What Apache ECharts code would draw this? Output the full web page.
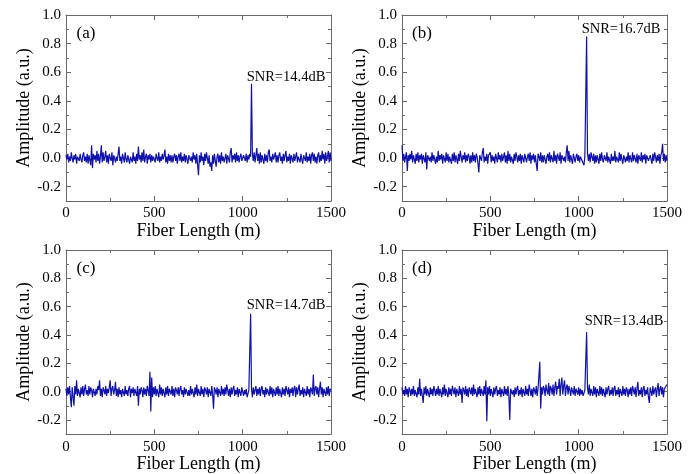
<!DOCTYPE html>
<html>
<head>
<meta charset="utf-8">
<script src="https://cdn.jsdelivr.net/npm/echarts@6/dist/echarts.min.js"></script>
<style>html,body{margin:0;padding:0;background:#fff}#c{width:697px;height:474px}</style>
</head>
<body>
<div id="c"></div>
<script>
// Sampling step along fiber (m); sample i is at i*STEP
const STEP = 5;
const yTicks = [-0.2, 0.0, 0.2, 0.4, 0.6, 0.8, 1.0];
const panelNames = ['(a)', '(b)', '(c)', '(d)'];
const snrLabels = ['SNR=14.4dB', 'SNR=16.7dB', 'SNR=14.7dB', 'SNR=13.4dB'];

const ampA = [
 0.02,-0.01,0.03,-0.03,0.01,-0.02,0.04,0.00,-0.03,0.02,-0.01,0.03,-0.04,0.01,0.02,-0.02,0.03,-0.01,-0.03,0.02,
 0.04,-0.02,0.01,-0.03,0.03,-0.04,0.02,0.01,-0.05,0.09,-0.07,0.03,-0.01,0.02,-0.03,0.05,-0.02,0.03,-0.04,0.01,
 0.09,-0.03,0.04,-0.02,0.01,0.05,-0.03,0.02,-0.04,0.03,0.00,-0.02,0.04,-0.05,0.02,0.03,-0.03,0.01,-0.02,0.03,
 0.08,-0.02,0.01,-0.04,0.03,0.02,-0.03,0.04,-0.01,-0.03,0.02,0.03,-0.04,0.01,0.02,-0.03,0.04,-0.02,0.01,-0.04,
 0.03,-0.02,0.08,-0.01,0.02,-0.03,0.04,-0.02,0.06,-0.03,0.01,0.03,-0.04,0.02,-0.01,0.03,-0.03,0.02,-0.02,0.01,
 0.02,-0.03,0.03,0.00,-0.02,0.04,-0.03,0.01,-0.02,0.03,-0.01,0.02,0.06,-0.03,0.01,-0.04,0.03,-0.02,0.02,-0.03,
 0.02,-0.03,0.01,0.03,-0.02,0.02,-0.04,0.01,0.03,-0.02,0.04,-0.03,0.01,-0.02,0.03,-0.03,0.02,0.01,-0.04,0.02,
 0.03,-0.02,0.01,-0.03,0.04,-0.01,0.02,-0.04,0.03,-0.05,-0.12,0.02,-0.03,0.04,-0.02,0.01,-0.05,0.03,-0.02,0.04,
 0.03,-0.04,0.02,-0.06,-0.03,-0.09,0.02,-0.04,0.03,-0.02,-0.06,0.01,0.03,-0.03,0.02,-0.04,0.04,-0.02,0.01,-0.03,
 -0.02,0.03,-0.04,0.02,0.01,-0.03,0.04,0.07,-0.03,0.02,-0.01,0.03,-0.03,0.04,-0.02,0.02,-0.03,0.01,0.03,-0.02,
 -0.03,0.02,0.01,-0.02,0.03,-0.03,0.02,-0.01,0.03,0.01,0.52,0.03,-0.02,0.04,-0.03,0.02,0.07,-0.02,0.03,-0.04,
 0.04,-0.03,0.02,0.01,-0.04,0.03,-0.02,0.02,-0.03,0.04,0.06,-0.02,0.01,-0.03,0.03,-0.01,-0.02,0.04,-0.03,0.02,
 -0.03,0.02,0.04,-0.02,0.01,-0.04,0.03,-0.02,0.02,0.05,-0.03,0.01,-0.02,0.03,-0.04,0.02,0.01,-0.03,0.03,-0.02,
 -0.02,0.04,-0.03,0.01,0.02,-0.03,0.03,-0.01,-0.04,0.02,0.03,-0.02,0.04,-0.03,0.01,-0.02,0.03,-0.04,0.02,0.04,
 -0.02,0.03,-0.03,0.01,-0.04,0.02,0.04,-0.03,0.02,-0.02,0.05,-0.01,0.03,-0.04,0.04,-0.02,0.01,0.05,-0.03,0.04,
 -0.02
];
const ampB = [
 0.09,-0.02,0.03,-0.03,0.01,0.04,-0.09,0.02,-0.02,0.03,-0.01,0.05,-0.03,0.02,0.01,-0.04,0.03,-0.02,0.04,-0.03,
 0.02,-0.01,0.03,-0.04,0.02,0.01,-0.03,0.04,-0.08,0.02,0.03,-0.02,0.01,-0.03,0.04,-0.02,0.02,0.03,-0.04,0.01,
 -0.03,0.05,-0.02,0.02,-0.01,0.03,-0.04,0.02,0.01,-0.03,0.04,-0.02,0.03,-0.03,0.01,0.02,-0.04,0.03,-0.02,0.04,
 -0.03,0.02,0.01,-0.04,0.03,-0.02,0.05,0.01,-0.03,0.02,-0.01,0.04,-0.03,0.02,-0.02,0.03,0.01,-0.04,0.02,-0.03,
 0.04,-0.02,0.02,-0.03,0.03,0.01,-0.04,-0.10,0.02,0.03,-0.02,0.04,0.07,-0.03,0.01,-0.02,0.03,-0.04,0.02,0.01,
 0.04,-0.03,0.02,-0.02,0.01,-0.04,0.03,0.02,-0.03,0.04,-0.01,0.02,-0.03,0.03,-0.02,0.01,0.04,-0.03,0.02,-0.04,
 0.05,-0.02,0.03,-0.03,0.01,0.02,-0.04,0.03,-0.02,0.04,0.01,-0.03,0.02,-0.02,0.03,-0.04,0.02,0.01,-0.03,0.03,
 0.02,-0.03,0.01,0.03,-0.02,0.04,-0.04,0.02,-0.01,0.03,-0.03,0.02,-0.04,-0.09,0.03,0.01,-0.02,0.04,-0.03,0.02,
 -0.03,0.02,0.03,-0.04,0.01,0.03,-0.02,0.04,-0.03,0.02,0.01,-0.03,0.05,-0.02,0.02,-0.04,0.03,0.01,-0.02,0.04,
 -0.04,0.02,0.03,-0.02,0.01,-0.03,0.04,0.09,-0.02,0.05,-0.03,0.02,-0.01,-0.04,0.03,0.02,-0.03,0.01,0.03,-0.02,
 0.02,-0.03,0.01,0.02,-0.02,-0.03,-0.05,0.01,0.02,0.85,0.03,-0.02,0.03,-0.03,0.04,0.01,-0.02,0.03,-0.04,0.02,
 -0.03,0.02,0.01,-0.04,0.03,-0.02,0.04,-0.01,-0.03,0.02,0.03,-0.02,0.04,-0.03,0.01,0.02,-0.04,0.03,-0.02,0.01,
 -0.02,0.05,-0.03,0.01,0.02,-0.03,0.04,-0.02,0.03,-0.01,-0.04,0.02,0.03,-0.03,0.01,-0.02,0.04,-0.03,0.02,0.01,
 -0.03,0.04,-0.02,0.02,0.01,-0.03,0.03,-0.04,0.02,0.01,-0.02,0.04,-0.03,0.02,-0.01,0.03,-0.04,0.02,0.03,-0.02,
 -0.03,0.02,0.01,-0.04,0.03,-0.02,0.04,0.01,-0.03,0.02,-0.02,0.03,-0.04,0.02,0.04,0.10,-0.02,0.03,-0.03,0.02,
 -0.02
];
const ampC = [
 0.02,-0.03,0.03,-0.02,0.04,-0.04,-0.11,0.03,0.02,-0.10,0.04,-0.02,0.08,-0.03,0.02,0.01,-0.04,0.03,-0.02,0.04,
 -0.03,0.02,0.05,-0.02,0.01,-0.03,0.04,-0.02,0.03,0.01,-0.04,0.02,0.03,-0.03,0.02,-0.02,0.04,0.01,0.08,-0.03,
 0.02,-0.04,0.03,0.01,-0.02,0.04,-0.03,0.02,-0.01,0.03,0.08,-0.03,0.02,0.04,-0.02,0.01,0.07,-0.03,0.02,-0.04,
 0.03,-0.02,0.01,-0.04,0.02,0.03,-0.03,0.04,-0.02,0.01,-0.03,0.02,0.04,-0.04,0.02,-0.01,0.03,-0.03,0.02,0.01,
 -0.03,0.04,-0.10,0.02,-0.02,0.03,0.01,-0.04,0.03,-0.02,0.02,-0.03,0.04,0.01,-0.03,0.14,-0.14,0.10,-0.04,0.03,
 -0.02,0.04,-0.03,0.02,0.01,-0.04,0.05,-0.02,0.03,-0.03,0.02,0.01,-0.04,0.03,-0.02,0.04,-0.03,0.02,0.01,-0.02,
 0.04,-0.03,0.02,-0.04,0.03,0.01,-0.02,0.03,-0.03,0.02,0.04,-0.02,0.01,-0.04,0.03,-0.02,0.02,0.03,-0.03,0.01,
 -0.03,0.04,-0.02,0.02,0.01,-0.04,0.03,-0.02,0.05,-0.03,0.02,0.01,-0.03,0.04,-0.02,0.02,-0.04,0.03,0.01,-0.02,
 0.03,-0.04,0.02,0.01,-0.03,0.04,-0.02,-0.12,0.03,0.01,-0.02,0.03,-0.04,0.02,0.01,-0.03,0.04,-0.02,0.02,-0.03,
 0.03,-0.02,0.05,0.01,-0.03,0.02,-0.04,0.03,-0.02,0.02,0.04,-0.03,0.01,-0.02,0.03,-0.04,0.02,0.01,-0.03,0.03,
 0.02,-0.03,0.01,-0.02,0.02,-0.04,-0.03,0.01,0.02,0.55,0.02,-0.04,0.03,-0.02,0.01,0.04,-0.03,0.02,-0.02,0.03,
 -0.03,0.02,0.04,-0.02,0.01,-0.04,0.03,-0.02,0.02,0.01,-0.03,0.04,-0.02,0.03,-0.04,0.02,0.01,-0.03,0.03,-0.02,
 0.04,-0.03,0.02,0.01,-0.04,0.03,-0.02,0.02,-0.03,0.04,0.01,-0.02,0.03,-0.04,0.02,-0.01,0.03,-0.03,0.02,0.04,
 -0.04,0.03,-0.02,0.02,0.05,-0.03,0.01,-0.02,0.03,-0.04,0.02,0.01,-0.03,0.04,-0.02,0.02,-0.04,0.03,0.01,-0.02,
 0.12,-0.03,0.02,0.04,-0.02,0.03,-0.04,0.02,0.07,-0.02,0.03,-0.04,0.02,0.01,-0.03,0.03,-0.02,0.04,-0.03,0.02,
 0.01
];
const ampD = [
 0.03,-0.02,0.01,-0.03,0.04,-0.02,0.02,-0.04,0.03,0.01,-0.03,0.02,-0.02,0.04,-0.03,0.01,0.02,-0.04,0.03,-0.02,
 0.09,-0.03,0.02,0.01,-0.08,0.03,-0.02,0.04,-0.03,0.02,0.01,-0.04,0.03,-0.02,0.02,-0.03,0.04,0.01,-0.03,0.02,
 -0.02,0.04,-0.03,0.02,0.01,-0.04,0.03,-0.02,0.05,-0.03,0.02,0.01,-0.04,0.03,-0.02,0.02,-0.03,0.04,0.01,-0.02,
 0.03,-0.04,0.02,0.01,-0.03,0.04,-0.02,0.02,-0.08,0.03,0.01,-0.02,0.04,-0.03,0.02,-0.04,0.03,0.01,-0.02,0.03,
 -0.03,0.05,-0.02,0.02,0.01,-0.04,0.03,-0.02,0.04,-0.03,0.02,0.01,-0.03,0.04,-0.02,0.08,-0.21,0.03,-0.02,0.04,
 -0.03,0.02,0.01,-0.04,0.03,-0.02,0.02,0.04,-0.03,0.01,-0.02,0.03,-0.04,0.02,0.01,-0.03,0.04,-0.02,0.02,-0.03,
 0.04,-0.03,-0.20,0.02,0.03,-0.02,0.01,-0.04,0.03,-0.02,0.02,0.04,-0.03,0.01,-0.02,0.03,-0.04,0.02,0.01,-0.03,
 0.04,-0.02,0.02,-0.03,0.05,0.01,-0.03,0.02,-0.04,0.03,0.01,-0.02,0.04,-0.03,0.02,0.03,0.21,-0.12,0.03,-0.02,
 0.04,0.02,-0.03,0.05,0.01,-0.02,0.06,-0.03,0.04,0.02,-0.02,0.05,-0.03,0.03,0.07,-0.02,0.04,0.02,0.09,-0.03,
 0.05,0.10,-0.02,0.04,0.08,-0.03,0.03,0.05,-0.02,0.04,0.01,-0.03,0.03,0.02,-0.02,0.04,-0.03,0.02,0.01,-0.02,
 0.03,-0.03,0.02,-0.02,0.01,-0.03,-0.04,0.01,0.02,0.42,0.03,-0.02,0.05,-0.03,0.02,0.01,-0.03,0.04,-0.02,0.03,
 -0.04,0.02,0.01,-0.03,0.04,-0.02,0.03,-0.03,0.02,0.01,-0.04,0.03,-0.02,0.02,0.04,-0.03,0.01,-0.02,0.03,-0.03,
 0.02,0.04,-0.03,0.01,-0.02,0.03,-0.04,0.02,0.01,-0.03,0.04,-0.02,0.02,-0.03,0.03,0.01,-0.04,0.02,-0.02,0.03,
 -0.03,0.04,0.01,-0.02,0.03,-0.04,0.02,0.07,-0.03,0.01,-0.02,0.03,-0.04,0.02,0.04,-0.03,0.01,-0.02,0.03,-0.04,
 -0.08,0.03,0.02,-0.03,0.04,-0.02,0.01,0.03,-0.04,0.02,0.06,-0.03,0.02,0.04,-0.02,0.03,-0.04,0.02,0.01,0.03,
 0.05
];
const allAmps = [ampA, ampB, ampC, ampD];

const FONT = '"Liberation Serif","Times New Roman","DejaVu Serif",serif';
const AXC = '#6a6a6a';
const LINEC = '#1010aa';
const W = 265, H = 186;
const positions = [[66, 15], [402, 15], [66, 250], [402, 250]];
const snrPos = [[286, 77], [621, 29], [286, 305], [624, 321]];

const grids = [], xAxes = [], yAxes = [], series = [], graphics = [];
positions.forEach(([l, t], g) => {
  grids.push({left: l, top: t, width: W, height: H});
  const xBase = {
    gridIndex: g, type: 'value', min: 0, max: 1500, interval: 500,
    axisLine: {show: true, onZero: false, lineStyle: {color: AXC, width: 1}},
    axisTick: {show: true, inside: true, length: 5, lineStyle: {color: AXC}},
    minorTick: {show: true, splitNumber: 2, length: 3, lineStyle: {color: AXC}},
    splitLine: {show: false}
  };
  xAxes.push(Object.assign({}, xBase, {
    position: 'bottom',
    axisLabel: {color: '#000', fontFamily: FONT, fontSize: 15, margin: 5, formatter: v => String(v)},
    name: 'Fiber Length (m)', nameLocation: 'middle', nameGap: 17,
    nameTextStyle: {color: '#000', fontFamily: FONT, fontSize: 18}
  }));
  xAxes.push(Object.assign({}, xBase, {position: 'top', axisLabel: {show: false}}));

  const yMajor = {
    gridIndex: g, type: 'value', min: -0.3, max: 1.0,
    axisLine: {show: true, onZero: false, lineStyle: {color: AXC, width: 1}},
    axisTick: {show: true, inside: true, length: 5, customValues: yTicks, lineStyle: {color: AXC}},
    splitLine: {show: false}
  };
  const yMinor = {
    gridIndex: g, type: 'value', min: -0.3, max: 1.0, interval: 0.1,
    axisLine: {show: false, onZero: false},
    axisTick: {show: true, inside: true, length: 3, lineStyle: {color: AXC}},
    axisLabel: {show: false}, splitLine: {show: false}
  };
  const yIdx = yAxes.length;
  yAxes.push(Object.assign({}, yMajor, {
    position: 'left',
    axisLabel: {customValues: yTicks, color: '#000', fontFamily: FONT, fontSize: 15, margin: 5,
      formatter: v => Number(v).toFixed(1)},
    name: 'Amplitude (a.u.)', nameLocation: 'middle', nameGap: 32,
    nameTextStyle: {color: '#000', fontFamily: FONT, fontSize: 18}
  }));
  yAxes.push(Object.assign({}, yMinor, {position: 'left'}));
  yAxes.push(Object.assign({}, yMajor, {position: 'right', axisLabel: {show: false}}));
  yAxes.push(Object.assign({}, yMinor, {position: 'right'}));

  series.push({
    type: 'line', xAxisIndex: g * 2, yAxisIndex: yIdx,
    data: allAmps[g].map((v, i) => [i * STEP, v]),
    showSymbol: false, symbol: 'none', animation: false,
    lineStyle: {color: LINEC, width: 1.2}
  });

  graphics.push({type: 'text', x: l + 20, y: t + 19,
    style: {text: panelNames[g], font: '17px ' + FONT, fill: '#000', textAlign: 'center', textVerticalAlign: 'middle'}});
  graphics.push({type: 'text', x: snrPos[g][0], y: snrPos[g][1],
    style: {text: snrLabels[g], font: '14.5px ' + FONT, fill: '#000', textAlign: 'center', textVerticalAlign: 'middle'}});
});

const chart = echarts.init(document.getElementById('c'), null, {renderer: 'canvas'});
chart.setOption({
  backgroundColor: '#fff',
  animation: false,
  grid: grids, xAxis: xAxes, yAxis: yAxes, series: series, graphic: graphics
});
</script>
</body>
</html>
